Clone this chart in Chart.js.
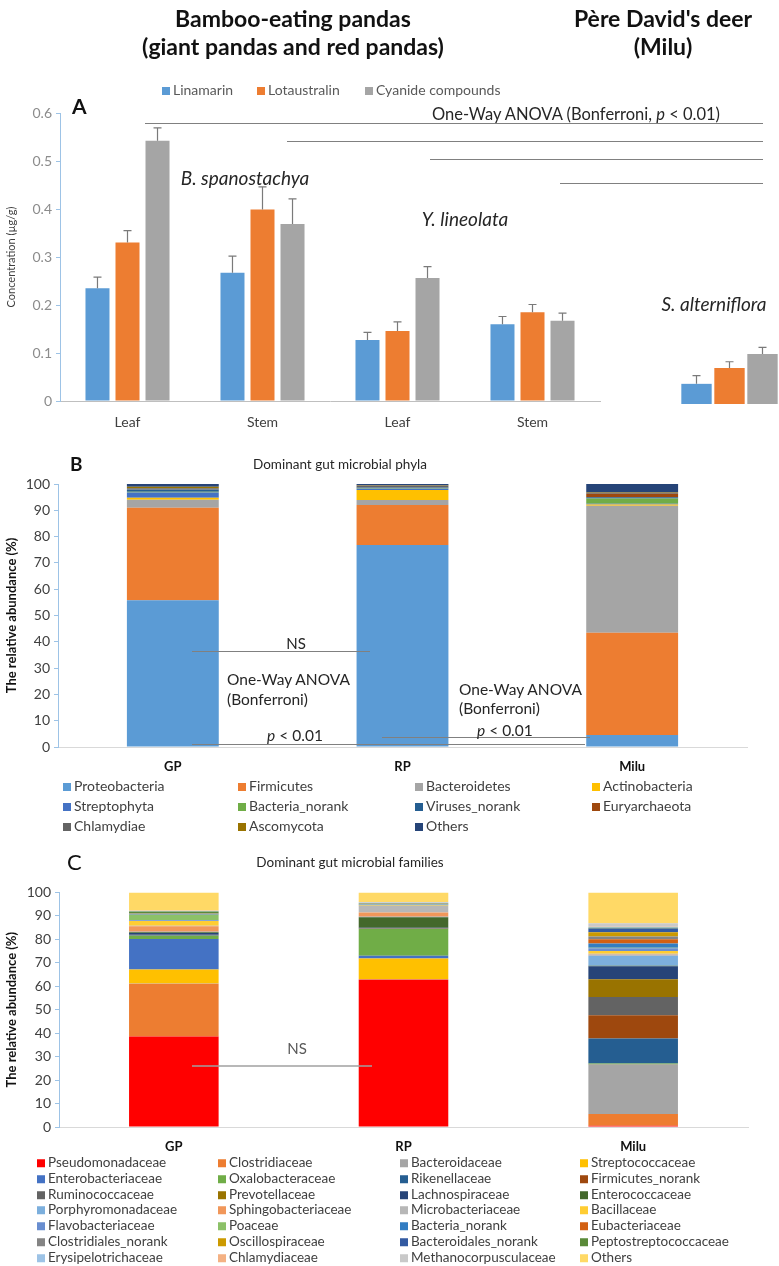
<!DOCTYPE html>
<html>
<head>
<meta charset="utf-8">
<script src="https://cdn.jsdelivr.net/npm/chart.js@4"></script>
<style>
  body { margin: 0; background: #fff; font-family: Lato, "Open Sans", sans-serif; color: #262626; }
  #page { position: relative; width: 779px; height: 1266px; overflow: hidden; background: #fff; }
  canvas, svg { position: absolute; }
  .t { position: absolute; white-space: nowrap; line-height: 1; }
  .c { transform: translate(-50%, -50%); }
  .l { transform: translateY(-50%); }
  .b { font-weight: bold; }
  .it { font-style: italic; }
  .key { position: absolute; white-space: nowrap; line-height: 1; transform: translateY(-50%); color: #404040; }
  .key i { display: inline-block; width: 8px; height: 8px; margin-right: 3px; }
</style>
</head>
<body>
<div id="page">
  <canvas id="chartA" width="779" height="341" style="left:0;top:95px"></canvas>
  <canvas id="chartA2" width="119" height="288" style="left:660px;top:116px"></canvas>
  <canvas id="chartB" width="779" height="307" style="left:0;top:470px"></canvas>
  <canvas id="chartC" width="779" height="277" style="left:0;top:880px"></canvas>

  <svg width="779" height="1266" style="left:0;top:0">
    <g stroke="#808080" stroke-width="1">
      <line x1="145" y1="123.5" x2="763" y2="123.5"/>
      <line x1="287" y1="141.5" x2="763" y2="141.5"/>
      <line x1="430" y1="159.5" x2="763" y2="159.5"/>
      <line x1="560" y1="183.5" x2="763" y2="183.5"/>
      <line x1="192" y1="651.5" x2="370" y2="651.5"/>
      <line x1="192" y1="744.5" x2="585" y2="744.5"/>
      <line x1="382" y1="737.5" x2="590" y2="737.5"/>
    </g>
    <line x1="192" y1="1066" x2="372" y2="1066" stroke="#a0a0a0" stroke-width="1.5"/>
  </svg>

  <!-- headers -->
  <div class="t c b" style="left:293px;top:18px;font-size:23px;color:#111">Bamboo-eating pandas</div>
  <div class="t c b" style="left:293px;top:46px;font-size:23px;color:#111">(giant pandas and red pandas)</div>
  <div class="t c b" style="left:663px;top:18px;font-size:23px;color:#111">Père David's deer</div>
  <div class="t c b" style="left:663px;top:46px;font-size:23px;color:#111">(Milu)</div>

  <!-- panel A -->
  <div id="legendA"></div>
  <div class="t b" style="left:72px;top:95px;font-size:21px;color:#111">A</div>
  <div class="t c" style="left:576px;top:114px;font-size:16.5px">One-Way ANOVA (Bonferroni, <i>p</i> &lt; 0.01)</div>
  <div class="t c it" style="left:245px;top:177px;font-size:19px">B. spanostachya</div>
  <div class="t c it" style="left:465px;top:218px;font-size:19px">Y. lineolata</div>
  <div class="t c it" style="left:714px;top:303px;font-size:19px">S. alterniflora</div>

  <!-- panel B -->
  <div class="t b" style="left:70px;top:454px;font-size:19px;color:#111">B</div>
  <div class="t c" style="left:340px;top:465px;font-size:13.5px">Dominant gut microbial phyla</div>
  <div class="t c" style="left:296px;top:643px;font-size:15px">NS</div>
  <div class="t l" style="left:227px;top:680px;font-size:15.5px">One-Way ANOVA</div>
  <div class="t l" style="left:227px;top:700px;font-size:15.5px">(Bonferroni)</div>
  <div class="t c" style="left:295px;top:736px;font-size:15.5px"><i>p</i> &lt; 0.01</div>
  <div class="t l" style="left:459px;top:690px;font-size:15.5px">One-Way ANOVA</div>
  <div class="t l" style="left:459px;top:709px;font-size:15.5px">(Bonferroni)</div>
  <div class="t l" style="left:477px;top:731px;font-size:15.5px"><i>p</i> &lt; 0.01</div>
  <div id="legendB"></div>

  <!-- panel C -->
  <div class="t" style="left:67px;top:851px;font-size:22px;color:#111">C</div>
  <div class="t c" style="left:350px;top:863px;font-size:13.5px">Dominant gut microbial families</div>
  <div class="t c" style="left:297px;top:1048px;font-size:15px;color:#595959">NS</div>
  <div id="legendC"></div>
</div>

<script>
// ---- Panel A: cyanogenic compounds (µg/g) ----
const plantParts = ['Leaf', 'Stem', 'Leaf', 'Stem'];
const linamarin = [0.235, 0.267, 0.127, 0.160];
const linamarinErr = [0.023, 0.035, 0.016, 0.016];
const lotaustralin = [0.330, 0.399, 0.146, 0.185];
const lotaustralinErr = [0.025, 0.047, 0.019, 0.016];
const cyanide = [0.542, 0.369, 0.256, 0.167];
const cyanideErr = [0.027, 0.052, 0.024, 0.016];
// S. alterniflora: linamarin, lotaustralin, cyanide compounds
const spartina = [0.042, 0.075, 0.104];
const spartinaErr = [0.017, 0.013, 0.014];
const compoundNames = ['Linamarin', 'Lotaustralin', 'Cyanide compounds'];
const compoundColors = ['#5B9BD5', '#ED7D31', '#A5A5A5'];

// ---- Panel B: phyla (%) ----
const samples = ['GP', 'RP', 'Milu'];
const phylaNames = ['Proteobacteria', 'Firmicutes', 'Bacteroidetes', 'Actinobacteria', 'Streptophyta',
  'Bacteria_norank', 'Viruses_norank', 'Euryarchaeota', 'Chlamydiae', 'Ascomycota', 'Others'];
const gpPhyla = [55.8, 35.2, 3.0, 0.8, 2.0, 0.3, 0.8, 0.1, 0.4, 0.6, 1.0];
const rpPhyla = [76.8, 15.2, 1.9, 3.8, 0.5, 0.2, 0.3, 0.1, 0.6, 0.2, 0.4];
const miluPhyla = [4.6, 38.8, 48.3, 0.5, 0.3, 2.0, 0.5, 1.3, 0.3, 0.2, 3.2];
const phylaColors = ['#5B9BD5', '#ED7D31', '#A5A5A5', '#FFC000', '#4472C4', '#70AD47',
  '#255E91', '#9E480E', '#636363', '#997300', '#264478'];

// ---- Panel C: families (%) ----
const familyNames = ['Pseudomonadaceae', 'Clostridiaceae', 'Bacteroidaceae', 'Streptococcaceae',
  'Enterobacteriaceae', 'Oxalobacteraceae', 'Rikenellaceae', 'Firmicutes_norank',
  'Ruminococcaceae', 'Prevotellaceae', 'Lachnospiraceae', 'Enterococcaceae',
  'Porphyromonadaceae', 'Sphingobacteriaceae', 'Microbacteriaceae', 'Bacillaceae',
  'Flavobacteriaceae', 'Poaceae', 'Bacteria_norank', 'Eubacteriaceae',
  'Clostridiales_norank', 'Oscillospiraceae', 'Bacteroidales_norank', 'Peptostreptococcaceae',
  'Erysipelotrichaceae', 'Chlamydiaceae', 'Methanocorpusculaceae', 'Others'];
const gpFamilies = [38.6, 22.5, 0.1, 5.9, 13.0, 1.4, 0.2, 0.1, 0.1, 0.1, 0.7, 0.3, 0.2, 2.4,
  0.2, 2.0, 0.3, 2.4, 0.2, 0.1, 0.1, 0.1, 0.1, 0.8, 0.2, 0.1, 0.1, 7.7];
const rpFamilies = [62.8, 0.2, 0.1, 8.7, 1.2, 11.4, 0.1, 0.1, 0.1, 0.1, 0.1, 4.5, 0.2, 1.8,
  2.8, 0.2, 0.3, 0.1, 0.1, 0.1, 0.1, 0.1, 0.1, 0.1, 0.3, 0.1, 0.1, 4.1];
const miluFamilies = [0.5, 5.0, 20.9, 0.1, 0.3, 0.3, 10.6, 9.9, 7.8, 7.6, 5.5, 0.2, 4.4, 0.3,
  0.4, 1.2, 1.2, 0.2, 1.8, 1.8, 1.2, 1.8, 1.6, 0.3, 0.3, 0.2, 1.4, 13.2];
const familyColors = ['#FF0000', '#ED7D31', '#A5A5A5', '#FFC000', '#4472C4', '#70AD47', '#255E91',
  '#9E480E', '#636363', '#997300', '#264478', '#43682B', '#7CAFDD', '#F1975A', '#B7B7B7',
  '#FFCD33', '#698ED0', '#8CC168', '#327DC2', '#D26012', '#848484', '#CC9A00', '#335AA1',
  '#5A8A39', '#9DC3E6', '#F4B183', '#C9C9C9', '#FFD966'];

Chart.defaults.font.family = 'Lato, "Open Sans", sans-serif';
Chart.defaults.animation = false;

// draws the upper error bar of every bar, using the y scale
const errorBars = {
  id: 'errorBars',
  afterDatasetsDraw(chart) {
    const ctx = chart.ctx;
    const yScale = chart.scales.y;
    chart.data.datasets.forEach((ds, i) => {
      chart.getDatasetMeta(i).data.forEach((bar, j) => {
        const top = yScale.getPixelForValue(ds.data[j] + ds.errors[j]);
        ctx.save();
        ctx.strokeStyle = '#7a7a7a';
        ctx.lineWidth = 1.2;
        ctx.beginPath();
        ctx.moveTo(bar.x, bar.y);
        ctx.lineTo(bar.x, top);
        ctx.moveTo(bar.x - 4, top);
        ctx.lineTo(bar.x + 4, top);
        ctx.stroke();
        ctx.restore();
      });
    });
  }
};

const noPlugins = { legend: { display: false }, tooltip: { enabled: false } };

function yAxis(max, step, width, labelColor, title) {
  return {
    min: 0, max: max, stacked: true,
    afterFit: s => { s.width = width; },
    ticks: { stepSize: step, color: labelColor, font: { size: 14 }, padding: 4 },
    grid: { drawOnChartArea: false, drawTicks: true, tickLength: 4, color: '#9DC3E6' },
    border: { color: '#9DC3E6' },
    title: title
  };
}

// Panel A main chart
new Chart(document.getElementById('chartA'), {
  type: 'bar',
  data: {
    labels: plantParts,
    datasets: [
      { label: compoundNames[0], data: linamarin, errors: linamarinErr, backgroundColor: compoundColors[0] },
      { label: compoundNames[1], data: lotaustralin, errors: lotaustralinErr, backgroundColor: compoundColors[1] },
      { label: compoundNames[2], data: cyanide, errors: cyanideErr, backgroundColor: compoundColors[2] }
    ]
  },
  options: {
    responsive: false,
    layout: { padding: { top: 18, right: 179 } },
    categoryPercentage: 0.667,
    barPercentage: 0.8,
    plugins: noPlugins,
    scales: {
      x: {
        afterFit: s => { s.height = 35; },
        grid: { display: false, drawTicks: false },
        border: { color: '#BFBFBF' },
        ticks: { color: '#404040', font: { size: 14 }, padding: 13 }
      },
      y: Object.assign(yAxis(0.6, 0.1, 60, '#8C8C8C', {
        display: true, text: 'Concentration (µg/g)', color: '#404040',
        font: { size: 11 }, padding: { top: 5, bottom: 0 }
      }), { stacked: false })
    }
  },
  plugins: [errorBars]
});

// Panel A: S. alterniflora group, same value scale
new Chart(document.getElementById('chartA2'), {
  type: 'bar',
  data: {
    labels: [''],
    datasets: compoundNames.map((name, i) => ({
      label: name, data: [spartina[i]], errors: [spartinaErr[i]], backgroundColor: compoundColors[i]
    }))
  },
  options: {
    responsive: false,
    layout: { padding: { left: 20 } },
    categoryPercentage: 1.0,
    barPercentage: 0.92,
    plugins: noPlugins,
    scales: {
      x: { display: false },
      y: { display: false, min: 0, max: 0.6 }
    }
  },
  plugins: [errorBars]
});

function stackedChart(id, names, colors, rows, padTop, padRight, barPct, yWidth) {
  return new Chart(document.getElementById(id), {
    type: 'bar',
    data: {
      labels: samples,
      datasets: names.map((name, i) => ({
        label: name,
        data: rows.map(r => r[i]),
        backgroundColor: colors[i],
        borderWidth: 0
      }))
    },
    options: {
      responsive: false,
      layout: { padding: { top: padTop, right: padRight } },
      categoryPercentage: 1.0,
      barPercentage: barPct,
      plugins: noPlugins,
      scales: {
        x: {
          stacked: true,
          afterFit: s => { s.height = 30; },
          grid: { display: false, drawTicks: false },
          border: { color: '#D9D9D9' },
          ticks: { color: '#111', font: { size: 13, weight: 'bold' }, padding: 12 }
        },
        y: yAxis(100, 10, yWidth, '#404040', {
          display: true, text: 'The relative abundance (%)', color: '#111',
          font: { size: 13, weight: 'bold' }, padding: { top: 4, bottom: 0 }
        })
      }
    }
  });
}

stackedChart('chartB', phylaNames, phylaColors, [gpPhyla, rpPhyla, miluPhyla], 14, 32, 0.4, 58);
stackedChart('chartC', familyNames, familyColors, [gpFamilies, rpFamilies, miluFamilies], 12, 31, 0.39, 59);

// legends
function buildLegend(el, names, colors, xs, ys, cols, size) {
  names.forEach((name, i) => {
    const d = document.createElement('div');
    d.className = 'key';
    d.style.left = xs[i % cols] + 'px';
    d.style.top = ys[Math.floor(i / cols)] + 'px';
    d.style.fontSize = size + 'px';
    d.innerHTML = '<i style="background:' + colors[i] + '"></i>' + name;
    el.appendChild(d);
  });
}
buildLegend(document.getElementById('legendA'), compoundNames, compoundColors,
  [162, 257, 365], [90], 3, 14);
document.querySelectorAll('#legendA .key').forEach(k => { k.style.color = '#595959'; });
buildLegend(document.getElementById('legendB'), phylaNames, phylaColors,
  [63, 238, 415, 592], [786, 806, 826], 4, 14);
buildLegend(document.getElementById('legendC'), familyNames, familyColors,
  [37, 218, 400, 580], [1163, 1179, 1195, 1210, 1226, 1242, 1258], 4, 13.5);
</script>
</body>
</html>
